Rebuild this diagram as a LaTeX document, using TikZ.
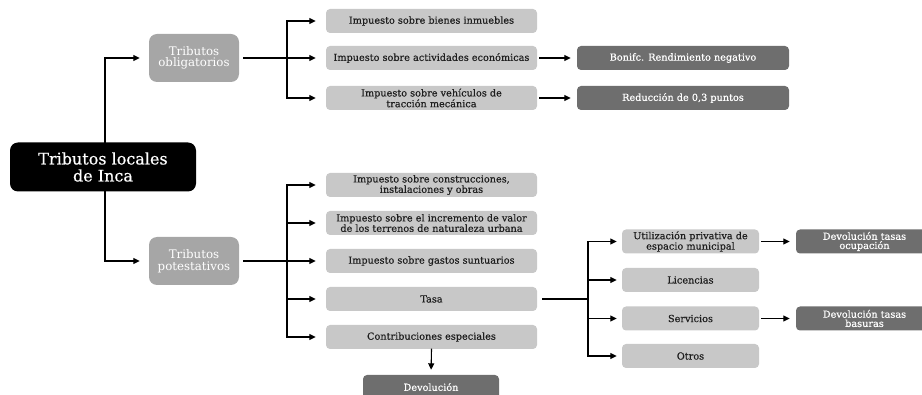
\documentclass[tikz,border=0pt]{standalone}
\usepackage{fontspec}
\setmainfont{DejaVu Serif}
\newfontfamily\medfont[FakeBold=0.5]{DejaVu Serif}
\usetikzlibrary{arrows.meta}

\definecolor{catgray}{HTML}{A6A6A6}
\definecolor{itemgray}{HTML}{C8C8C8}
\definecolor{notegray}{HTML}{6E6E6E}
\definecolor{itemtext}{HTML}{1E1E1E}

\tikzset{
    box/.style={rounded corners=4pt, inner sep=1pt, align=center,
        font=\medfont\fontsize{9.7}{9.2}\selectfont},
    rootbox/.style={box, fill=black, text=white, rounded corners=8pt,
        minimum width=186pt, minimum height=49pt,
        font=\medfont\fontsize{16}{17}\selectfont},
    catbox/.style={box, fill=catgray, text=white, rounded corners=8pt,
        minimum width=90pt, minimum height=48pt,
        font=\fontsize{11.8}{11.5}\selectfont},
    itembox/.style={box, fill=itemgray, text=itemtext,
        minimum width=211pt, minimum height=24pt},
    subbox/.style={box, fill=itemgray, text=itemtext,
        minimum width=137pt, minimum height=24pt},
    notebox/.style={box, fill=notegray, text=white,
        minimum width=212pt, minimum height=24pt},
    link/.style={line width=1.1pt, line cap=rect},
    arrow/.style={link, -{Triangle[length=6.5pt,width=6pt]}, shorten >=6pt}
}

\begin{document}
\begin{tikzpicture}[x=1pt, y=-1pt]
    % Picture frame
    \useasboundingbox (0,0) rectangle (922,395);
    \clip (0,0) rectangle (922,395);

    % Root and the two groups
    \node[rootbox] (root) at (103,167) {Tributos locales\\de Inca};
    \node[catbox] (obl) at (194,58) {Tributos\\obligatorios};
    \node[catbox] (pot) at (194,261) {Tributos\\potestativos};

    % Obligatory taxes
    \node[itembox] (ibi) at (431.5,21) {Impuesto sobre bienes inmuebles};
    \node[itembox] (iae) at (431.5,58) {Impuesto sobre actividades económicas};
    \node[itembox] (ivtm) at (431.5,98) {Impuesto sobre vehículos de\\tracción mecánica};
    \node[notebox] (bonif) at (683,58) {Bonifc. Rendimiento negativo};
    \node[notebox] (reduc) at (683,98) {Reducción de 0,3 puntos};

    % Optional taxes
    \node[itembox] (icio) at (431.5,185) {Impuesto sobre construcciones,\\instalaciones y obras};
    \node[itembox] (iivt) at (431.5,223) {Impuesto sobre el incremento de valor\\de los terrenos de naturaleza urbana};
    \node[itembox] (igs) at (431.5,261) {Impuesto sobre gastos suntuarios};
    \node[itembox] (tasa) at (431.5,299) {Tasa};
    \node[itembox] (contrib) at (431.5,337) {Contribuciones especiales};
    \node[notebox, minimum width=136pt] (devol) at (431,387) {Devolución};

    % Kinds of tasa
    \node[subbox] (util) at (690.5,241.5) {Utilización privativa de\\espacio municipal};
    \node[subbox] (lic) at (690.5,280) {Licencias};
    \node[subbox] (serv) at (690.5,318.5) {Servicios};
    \node[subbox] (otros) at (690.5,356) {Otros};
    \node[notebox, minimum width=137pt] (devocu) at (864.5,241.5) {Devolución tasas\\ocupación};
    \node[notebox, minimum width=137pt] (devbas) at (864.5,318.5) {Devolución tasas\\basuras};

    % Junction points
    \coordinate (jroot) at (105,167);
    \coordinate (jobl) at (287,58);
    \coordinate (jpot) at (287,261);
    \coordinate (jtasa) at (588,299);

    % Root to groups
    \draw[arrow, shorten >=9pt] (jroot |- root.north) |- (obl.west);
    \draw[arrow, shorten >=9pt] (jroot |- root.south) |- (pot.west);

    % Obligatory branch
    \draw[link, shorten <=4pt] (obl.east) -- (jobl);
    \foreach \n in {ibi, iae, ivtm}
        \draw[arrow, shorten >=10pt] (jobl) |- (\n.west);
    \draw[arrow, shorten <=2pt] (iae.east) -- (bonif.west);
    \draw[arrow, shorten <=2pt] (ivtm.east) -- (reduc.west);

    % Optional branch
    \draw[link, shorten <=4pt] (pot.east) -- (jpot);
    \foreach \n in {icio, iivt, igs, tasa, contrib}
        \draw[arrow, shorten >=10pt] (jpot) |- (\n.west);
    \draw[arrow, shorten >=5pt] (contrib.south) -- (devol.north);

    % Tasa branch
    \draw[link, shorten <=5pt] (tasa.east) -- (jtasa);
    \foreach \n in {util, lic, serv, otros}
        \draw[arrow, shorten >=5pt] (jtasa) |- (\n.west);
    \draw[arrow, shorten <=2pt] (util.east) -- (devocu.west);
    \draw[arrow, shorten <=2pt] (serv.east) -- (devbas.west);
\end{tikzpicture}
\end{document}
